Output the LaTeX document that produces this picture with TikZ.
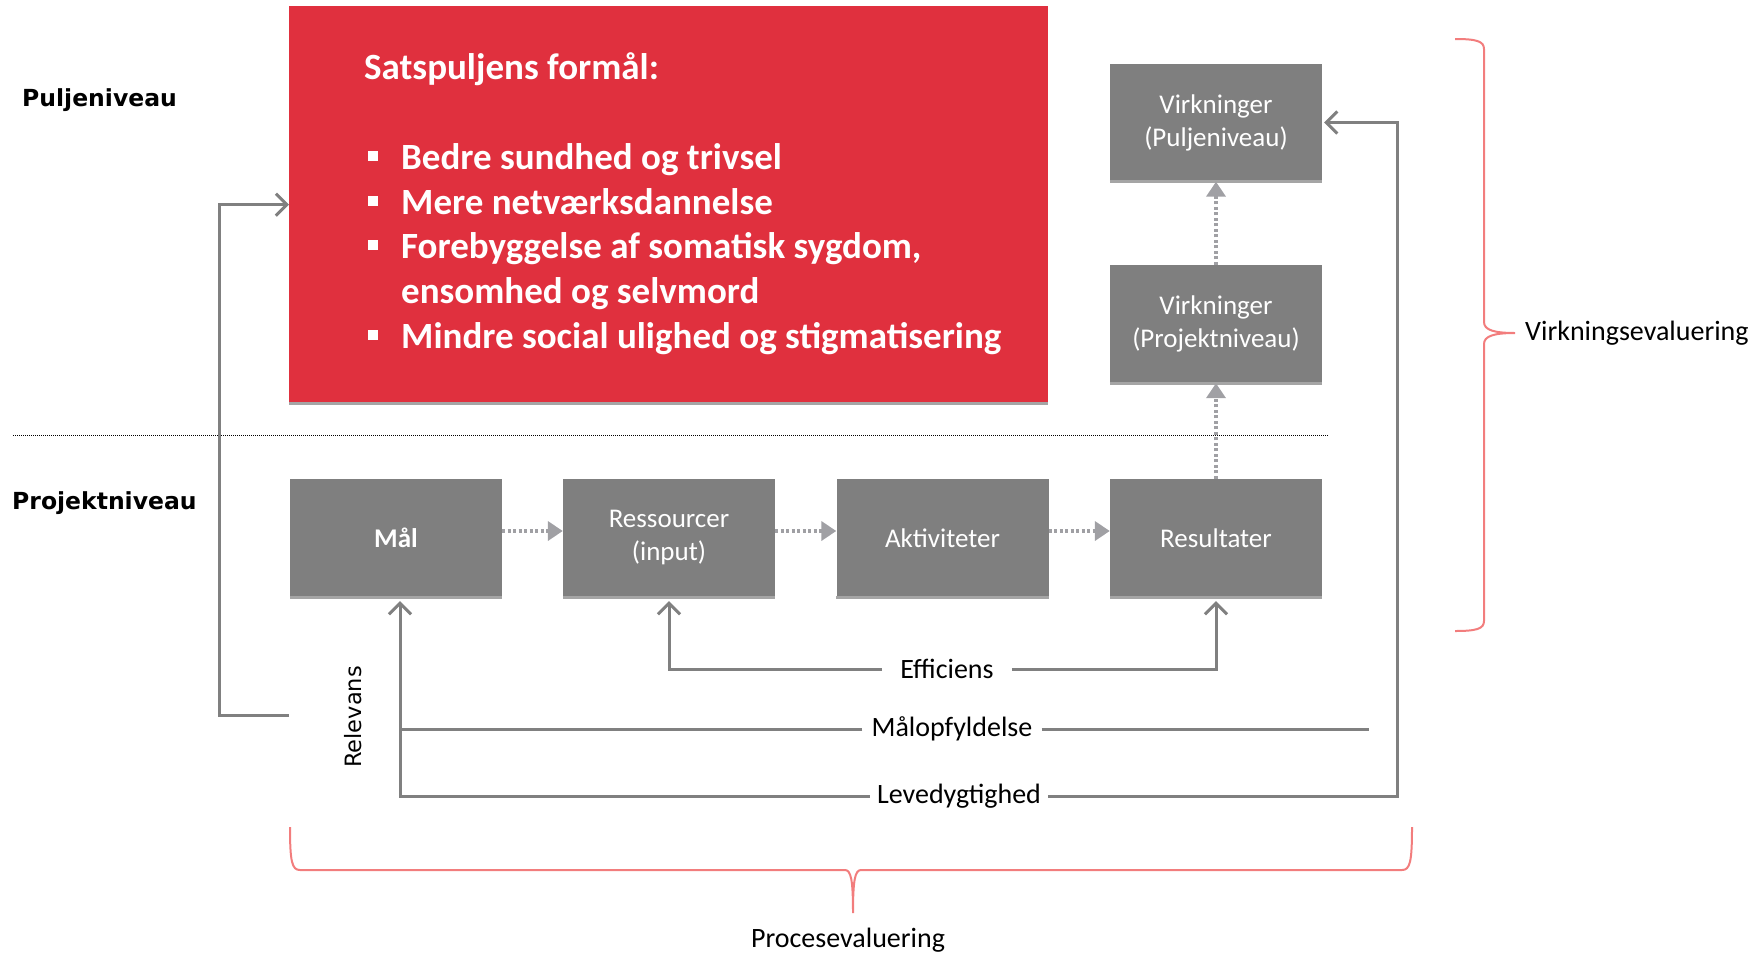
\documentclass[tikz,border=0pt]{standalone}
\usepackage{fontspec}
\setmainfont{Carlito}
\newfontfamily\dejavu{DejaVu Sans}
\usetikzlibrary{arrows.meta}
\definecolor{satred}{RGB}{224,48,62}
\definecolor{boxgray}{RGB}{127,127,127}
\definecolor{shadowgray}{RGB}{165,165,165}
\definecolor{linegray}{RGB}{128,128,128}
\definecolor{dotgray}{RGB}{160,160,164}
\definecolor{bracered}{RGB}{242,125,125}
\begin{document}
\begin{tikzpicture}[x=1pt,y=-1pt,
  gbox/.style={fill=boxgray, minimum width=212pt, minimum height=118pt, inner sep=0pt, text=white,
    font=\fontsize{27}{33}\selectfont, align=center},
  shadowline/.style={draw=shadowgray, line width=3pt},
  conn/.style={draw=linegray, line width=3pt, -{Straight Barb[length=11pt,width=22pt]}},
  plainline/.style={draw=linegray, line width=3pt},
  flow/.style={draw=dotgray, line width=4pt, dash pattern=on 3pt off 2.5pt, -{Triangle[length=15pt,width=19pt]}},
  lbl/.style={font=\fontsize{28}{32}\selectfont, inner ysep=2pt, fill=white},
  levlabel/.style={font=\dejavu\bfseries\fontsize{23.5}{28}\selectfont, anchor=west, inner sep=0pt},
  redtext/.style={text=white, font=\bfseries\fontsize{37}{44}\selectfont, anchor=mid west, inner sep=0pt},
  bulletsq/.style={fill=white, minimum size=10pt, inner sep=0pt},
  bracepath/.style={draw=bracered, line width=2pt},
  bracetext/.style={font=\fontsize{28}{32}\selectfont},
]
\useasboundingbox (0,0) rectangle (1756,954);

% red purpose box
\node[fill=satred, minimum width=759pt, minimum height=397pt, inner sep=0pt, anchor=north west] (formal) at (289,6) {};
\draw[shadowline] (formal.south west) -- (formal.south east);
\node[redtext] (title) at (364,77) {Satspuljens formål:};
\node[bulletsq] (b1) at (373,156) {};
\node[redtext] (t1) at (401,167) {Bedre sundhed og trivsel};
\node[bulletsq] (b2) at (373,201) {};
\node[redtext] (t2) at (401,212) {Mere netværksdannelse};
\node[bulletsq] (b3) at (373,245) {};
\node[redtext] (t3) at (401,256) {Forebyggelse af somatisk sygdom,};
\node[redtext] (t4) at (401,301) {ensomhed og selvmord};
\node[bulletsq] (b5) at (373,335) {};
\node[redtext] (t5) at (401,346) {Mindre social ulighed og stigmatisering};

% level labels
\node[levlabel] (pul) at (22,100) {Puljeniveau};
\node[levlabel] (proj) at (12,503) {Projektniveau};
\draw[black, line width=1pt, dash pattern=on 1pt off 1pt] (13,435) -- (1329,435);

% gray boxes
\node[gbox] (mal) at (396,538) {\textbf{Mål}};
\node[gbox] (res) at (669,538) {Ressourcer\\(input)};
\node[gbox] (akt) at (942.5,538) {Aktiviteter};
\node[gbox] (resu) at (1216,538) {Resultater};
\node[gbox] (vproj) at (1216,324) {Virkninger\\(Projektniveau)};
\node[gbox] (vpulj) at (1216,122.5) {Virkninger\\(Puljeniveau)};
\foreach \b in {mal,res,akt,resu,vproj,vpulj}
  \draw[shadowline] (\b.south west) -- (\b.south east);

% flow arrows
\draw[flow] ([yshift=7pt]mal.east) -- ([yshift=7pt]res.west);
\draw[flow] ([yshift=7pt]res.east) -- ([yshift=7pt]akt.west);
\draw[flow] ([yshift=7pt]akt.east) -- ([yshift=7pt]resu.west);
\draw[flow] (resu.north) -- (vproj.south);
\draw[flow] (vproj.north) -- (vpulj.south);

% relevans
\coordinate (relstart) at (289,715);
\draw[conn] (relstart) -- (219,715) |- (formal.west);
\node[rotate=90, font=\dejavu\fontsize{22.5}{26}\selectfont] (relevans) at (353,717) {Relevans};

% efficiens
\node[lbl, inner xsep=18pt] (eff) at (947,669) {Efficiens};
\draw[conn, shorten >=4pt] (eff.west) -| (res.south);
\draw[conn, shorten >=4pt] (eff.east) -| (resu.south);

% maalopfyldelse
\node[lbl, inner xsep=9pt] (malop) at (952,729) {Målopfyldelse};
\coordinate (malopend) at (1369,729);
\draw[plainline] (malop.east) -- (malopend);
\draw[plainline] (malop.west) -- ([xshift=4pt]mal.south |- malop.west);

% levedygtighed
\node[lbl, inner xsep=7pt] (lev) at (959,796) {Levedygtighed};
\coordinate (levcorner) at (1397,796);
\draw[conn, shorten >=4pt] (lev.west) -| ([xshift=4pt]mal.south);
\draw[conn, shorten >=2pt] (lev.east) -- (levcorner) |- (vpulj.east);

% right brace
\draw[bracepath] (1455,39) .. controls (1476,39) and (1484,41) .. (1484,49) -- (1484,322)
  .. controls (1484,330) and (1494,333) .. (1515,333)
  .. controls (1494,333) and (1484,336) .. (1484,344) -- (1484,621)
  .. controls (1484,629) and (1476,631) .. (1455,631);
\node[bracetext, anchor=west, inner sep=0pt] (virk) at (1525,333) {Virkningsevaluering};

% bottom brace
\draw[bracepath] (290,827) .. controls (290,862) and (292,870) .. (300,870) -- (845,870)
  .. controls (851,870) and (853,880) .. (853,913)
  .. controls (853,880) and (855,870) .. (861,870) -- (1402,870)
  .. controls (1410,870) and (1412,862) .. (1412,827);
\node[bracetext] (proc) at (848,940) {Procesevaluering};
\end{tikzpicture}
\end{document}
